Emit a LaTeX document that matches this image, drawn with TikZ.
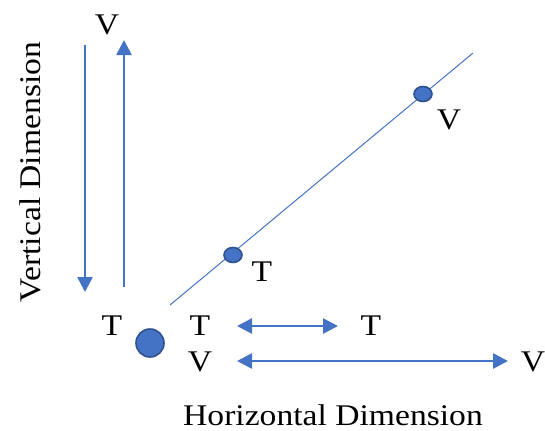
\documentclass[tikz,border=0pt]{standalone}
\usepackage{fontspec}
\setmainfont[FakeStretch=1.12]{Liberation Serif}
\usetikzlibrary{arrows.meta, positioning, shapes.geometric}
\definecolor{offblue}{HTML}{4472C4}
\definecolor{offdark}{HTML}{2F528F}

\begin{document}
\begin{tikzpicture}[
    x=0.5pt, y=-0.5pt,
    lbl/.style={font=\fontsize{15}{18}\selectfont, inner sep=0pt},
    arr/.style={-{Triangle[length=7.5pt,width=7.5pt]}, draw=offblue, fill=offblue, line width=1.3pt},
    darr/.style={{Triangle[length=7.5pt,width=7.5pt]}-{Triangle[length=7.5pt,width=7.5pt]}, draw=offblue, fill=offblue, line width=1.3pt},
    dot/.style={ellipse, draw=offdark, fill=offblue, line width=0.8pt, inner sep=0pt, minimum width=9pt, minimum height=7.5pt},
]
\useasboundingbox (0,0) rectangle (545,430);
% vertical pair
\coordinate (d1) at (85,45);
\coordinate (d2) at (85,292);
\coordinate (u1) at (124,287);
\coordinate (u2) at (124,40);
\node[lbl] (vtop) at (107,25) {V};
\node[lbl] (tleft) at (112,326) {T};
\draw[arr] (d1) -- (d2);
\draw[arr] (u1) -- (u2);
% origin
\node[circle, draw=offdark, fill=offblue, line width=0.8pt, minimum size=14pt, inner sep=0pt] (orig) at (150,343) {};
% diagonal
\coordinate (g1) at (170,305);
\coordinate (g2) at (473,53);
\draw[offblue, line width=0.5pt] (g1) -- (g2);
\node[dot] (dt) at (233,255) {};
\node[dot] (dv) at (423,94) {};
\node[lbl] (tdiag) at (262,272) {T};
\node[lbl] (vdiag) at (449,120) {V};
% horizontal pairs
\node[lbl] (t1) at (200,326) {T};
\node[lbl] (t2) at (371,326) {T};
\node[lbl] (v1) at (200,362) {V};
\node[lbl] (v2) at (533,362) {V};
\coordinate (ta) at (237,326);
\coordinate (tb) at (338,326);
\coordinate (va) at (237,361);
\coordinate (vb) at (508,361);
\draw[darr] (ta) -- (tb);
\draw[darr] (va) -- (vb);
% axis titles
\node[lbl] (htitle) at (333,415) {Horizontal Dimension};
\node[lbl, rotate=90] (vtitle) at (30,172) {Vertical Dimension};
\end{tikzpicture}
\end{document}
